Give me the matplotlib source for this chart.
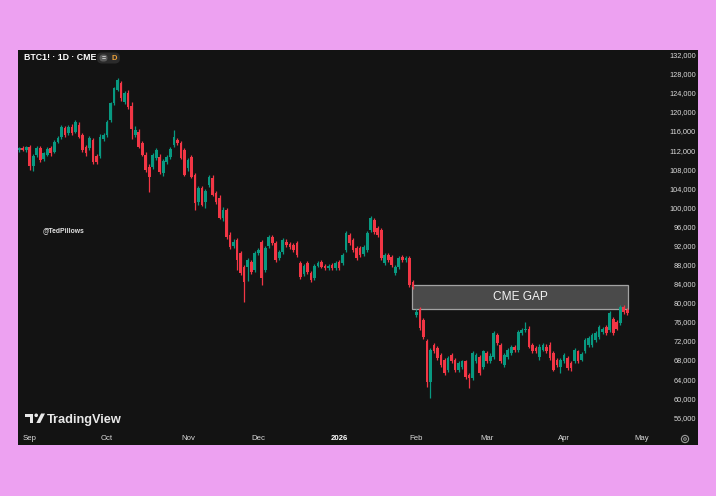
import numpy as np
import pandas as pd
import matplotlib
matplotlib.use('Agg')
import matplotlib.pyplot as plt
import matplotlib.transforms as mtransforms
from matplotlib.patches import Rectangle, FancyBboxPatch, Polygon, Circle

plt.rcParams['font.family'] = ['Liberation Sans', 'DejaVu Sans']

# daily CME sessions shown on the chart
dates = pd.bdate_range('2025-08-27', '2026-04-27')

# OHLC in thousands of USD
opens = [112.2, 112.6, 112.3, 112.8, 108.8, 111.2, 112.6, 110.4, 111.2, 112.6,
         111.9, 114.0, 115.0, 116.8, 115.7, 117.1, 116.1, 117.5, 115.4, 112.9,
         112.6, 114.3, 110.9, 111.0, 114.5, 115.3, 118.5, 122.0, 124.8, 126.3,
         122.3, 124.2, 121.5, 115.4, 116.0, 113.7, 111.2, 108.7, 108.7, 110.6,
         110.8, 107.4, 109.7, 110.8, 113.3, 114.3, 113.7, 112.2, 108.4, 110.8,
         107.0, 101.3, 104.2, 101.3, 104.9, 106.4, 103.2, 102.2, 98.0, 99.6,
         94.4, 92.0, 93.4, 90.6, 87.7, 87.7, 88.7, 87.0, 90.6, 93.0,
         87.0, 92.0, 94.0, 92.7, 89.6, 90.8, 93.0, 92.5, 92.3, 92.7,
         88.5, 86.2, 88.5, 86.4, 85.4, 88.0, 88.8, 88.0, 87.4, 88.1,
         87.4, 88.8, 88.6, 91.3, 94.4, 93.4, 91.7, 91.6, 90.4, 91.3,
         95.4, 97.5, 95.8, 95.5, 88.5, 90.2, 89.9, 86.4, 87.7, 89.9,
         89.2, 89.6, 84.5, 77.6, 79.0, 76.6, 72.2, 63.6, 71.4, 70.7,
         69.3, 68.2, 66.1, 69.3, 68.2, 66.1, 66.8, 67.9, 65.0, 64.4,
         67.9, 68.9, 66.8, 69.6, 68.0, 68.9, 73.4, 71.4, 67.2, 68.9,
         69.6, 71.0, 70.3, 73.8, 74.5, 74.8, 71.4, 70.7, 68.8, 70.3,
         71.0, 71.4, 69.6, 68.2, 66.8, 67.9, 68.6, 67.5, 67.9, 70.0,
         68.2, 70.0, 71.4, 71.4, 72.4, 73.1, 74.1, 75.2, 74.5, 76.9,
         76.2, 75.9, 79.4, 78.7]
highs = [112.9, 113.0, 113.1, 113.2, 111.3, 113.0, 113.0, 111.9, 112.8, 113.0,
         114.4, 115.2, 117.5, 117.2, 117.5, 117.6, 118.5, 118.0, 115.8, 113.3,
         115.1, 114.8, 111.3, 115.5, 115.8, 118.5, 122.3, 125.5, 127.3, 126.7,
         124.6, 124.8, 122.3, 117.3, 116.6, 114.2, 111.8, 109.3, 111.6, 112.6,
         111.3, 110.4, 111.2, 112.8, 116.4, 114.8, 114.2, 112.6, 110.5, 111.2,
         107.4, 104.6, 104.7, 104.0, 107.0, 106.9, 103.6, 102.7, 100.2, 100.1,
         95.0, 93.6, 93.8, 91.0, 88.1, 89.6, 89.1, 91.0, 91.7, 93.4,
         92.1, 94.4, 94.4, 93.1, 91.2, 93.8, 93.6, 92.9, 92.7, 93.1,
         88.9, 88.4, 88.9, 86.8, 88.4, 88.9, 89.2, 88.4, 88.3, 88.5,
         88.9, 89.2, 90.6, 95.2, 94.8, 93.8, 92.1, 92.0, 92.3, 95.2,
         98.3, 97.9, 96.2, 95.9, 90.6, 90.6, 90.3, 88.1, 90.0, 90.3,
         90.0, 90.0, 84.9, 79.0, 79.4, 77.0, 72.6, 70.7, 71.8, 71.1,
         69.7, 68.6, 69.0, 69.7, 68.6, 67.9, 68.3, 68.3, 65.4, 70.0,
         69.7, 69.3, 70.4, 70.0, 69.6, 74.2, 73.8, 71.8, 69.7, 70.7,
         71.4, 71.4, 74.5, 74.9, 76.2, 75.4, 71.8, 71.1, 71.5, 71.8,
         71.5, 71.9, 70.0, 68.6, 68.6, 69.7, 69.0, 67.9, 70.7, 70.4,
         69.8, 72.8, 73.2, 73.8, 74.2, 75.6, 75.2, 75.6, 78.4, 77.3,
         76.6, 79.7, 79.8, 79.1]
lows = [111.8, 112.0, 111.9, 108.0, 107.8, 110.8, 109.8, 110.0, 110.9, 111.0,
        111.5, 113.6, 114.6, 115.0, 115.3, 115.3, 115.8, 114.7, 111.8, 111.0,
        112.2, 109.4, 109.3, 110.6, 114.2, 115.0, 118.2, 121.7, 124.5, 122.6,
        121.9, 120.9, 114.5, 114.9, 112.6, 110.9, 107.7, 103.4, 108.2, 110.2,
        107.2, 106.8, 109.3, 110.4, 112.9, 113.2, 110.3, 106.7, 107.9, 106.3,
        99.6, 100.8, 100.4, 100.0, 104.5, 102.5, 101.0, 97.7, 97.4, 93.6,
        91.5, 91.6, 87.0, 86.0, 80.4, 84.8, 86.2, 86.6, 90.2, 84.0,
        86.6, 91.6, 92.3, 88.8, 89.2, 90.4, 91.9, 91.4, 90.9, 89.8,
        85.2, 85.8, 86.2, 84.6, 85.0, 87.6, 87.4, 87.0, 87.0, 87.0,
        87.0, 87.0, 88.2, 90.9, 92.3, 90.9, 89.2, 89.8, 90.0, 90.9,
        95.0, 94.6, 94.0, 89.2, 88.1, 88.8, 87.7, 86.0, 87.3, 88.8,
        88.8, 83.6, 83.1, 77.2, 74.5, 72.6, 62.5, 60.2, 69.6, 68.2,
        66.8, 65.0, 65.7, 67.5, 65.7, 65.7, 66.4, 64.3, 62.3, 64.0,
        67.5, 65.0, 66.4, 67.5, 67.6, 68.5, 71.3, 67.5, 66.8, 68.5,
        69.2, 69.9, 69.9, 73.4, 74.1, 70.7, 69.7, 69.6, 68.2, 70.0,
        69.7, 68.2, 65.8, 66.8, 65.4, 67.5, 66.1, 65.9, 67.5, 67.5,
        67.9, 69.6, 71.0, 71.0, 72.0, 72.7, 73.7, 73.4, 74.1, 73.4,
        74.4, 75.5, 77.9, 77.6]
closes = [112.6, 112.3, 112.8, 108.8, 110.9, 112.6, 110.1, 111.6, 112.4, 111.5,
          114.0, 114.7, 117.1, 115.4, 117.1, 115.7, 118.0, 115.0, 112.2, 111.5,
          114.7, 109.8, 109.8, 115.0, 115.3, 118.0, 122.0, 125.2, 126.9, 123.1,
          124.2, 121.2, 116.6, 116.4, 112.9, 111.2, 108.0, 106.5, 111.2, 112.2,
          107.6, 110.0, 110.8, 112.4, 115.0, 113.7, 110.6, 107.0, 110.1, 106.6,
          101.1, 104.2, 100.7, 103.6, 106.6, 102.8, 101.3, 98.0, 99.6, 94.0,
          91.9, 93.0, 89.2, 86.4, 84.5, 89.2, 86.6, 90.6, 91.3, 85.4,
          91.7, 94.0, 92.7, 89.2, 90.8, 93.4, 92.3, 91.8, 91.3, 90.2,
          85.6, 88.0, 86.6, 85.0, 88.0, 88.5, 87.8, 87.4, 87.9, 87.4,
          88.5, 87.4, 90.2, 94.8, 92.7, 91.3, 89.6, 90.2, 91.9, 94.8,
          97.9, 95.0, 94.4, 89.6, 90.2, 89.2, 88.1, 87.7, 89.6, 89.2,
          89.6, 84.0, 83.5, 78.3, 74.9, 73.0, 63.6, 70.3, 70.0, 68.6,
          67.2, 65.4, 68.6, 67.9, 66.1, 67.5, 67.9, 64.7, 64.4, 69.6,
          69.3, 65.4, 70.0, 67.9, 69.0, 73.8, 71.7, 67.9, 69.3, 70.3,
          71.0, 70.3, 74.1, 74.5, 74.8, 71.0, 70.0, 70.0, 71.0, 71.4,
          70.0, 68.6, 66.1, 67.2, 68.2, 69.3, 66.5, 66.5, 70.3, 67.9,
          69.5, 72.4, 72.8, 73.4, 73.8, 75.2, 74.8, 73.8, 78.0, 73.8,
          74.8, 79.4, 78.3, 78.0]

price_ticks = [56, 60, 64, 68, 72, 76, 80, 84, 88, 92, 96, 100,
               104, 108, 112, 116, 120, 124, 128, 132]
month_labels = ['Sep', 'Oct', 'Nov', 'Dec', '2026', 'Feb', 'Mar', 'Apr', 'May']
month_starts = pd.date_range('2025-09-01', '2026-05-01', freq='MS')

gap_low = 79.0
gap_high = 84.0
gap_from = pd.Timestamp('2026-01-30')

GREEN = '#089981'
RED = '#F23645'
BG = '#131313'
PINK = '#EDA1F1'
TXT = '#dadada'

W, H = 716, 496
fig = plt.figure(figsize=(W / 100, H / 100), dpi=100, facecolor=PINK)
# pixel coords (y down) -> figure
pix = mtransforms.Affine2D().scale(1 / W, -1 / H).translate(0, 1) + fig.transFigure

ax = fig.add_axes([18 / W, 51 / H, 680 / W, 395 / H])
ax.set_facecolor(BG)
for s in ax.spines.values():
    s.set_visible(False)
ax.set_xticks([])
ax.set_yticks([])
ax.set_xlim(-0.34, 193.12)
ax.set_ylim(50.385, 133.195)

o = np.array(opens)
h = np.array(highs)
l = np.array(lows)
c = np.array(closes)
x = np.arange(len(dates))
col = np.where(c >= o, GREEN, RED)

ax.vlines(x, l, h, colors=col, linewidth=0.9, zorder=3)
ax.bar(x, np.maximum(np.abs(c - o), 0.15), bottom=np.minimum(o, c), width=0.76,
       color=col, linewidth=0, zorder=3)

# CME gap box
gi = dates.searchsorted(gap_from)
x0 = gi - 0.3
x1 = len(dates) - 1 + 0.3
ax.add_patch(Rectangle((x0, gap_low), x1 - x0, gap_high - gap_low, facecolor='#4a4a4a',
                       edgecolor='#a3a3a3', linewidth=0.9, zorder=2))
ax.text((x0 + x1) / 2, (gap_low + gap_high) / 2, 'CME GAP', color='#f2f2f2', fontsize=8.6,
        ha='center', va='center', zorder=4)

# price scale
ytr = mtransforms.blended_transform_factory(ax.transAxes, ax.transData)
for t in price_ticks:
    ax.text(0.997, t, f'{t * 1000:,}', transform=ytr, ha='right', va='center',
            fontsize=5.3, color=TXT)

# time scale
all_days = pd.bdate_range(dates[0], '2026-05-29')
xtr = mtransforms.blended_transform_factory(ax.transData, ax.transAxes)
for m, lab in zip(month_starts, month_labels):
    pos = all_days.searchsorted(m)
    bold = lab == '2026'
    ax.text(pos, 0.0152, lab, transform=xtr, ha='center', va='center', fontsize=5.6,
            color='white' if bold else TXT, fontweight='bold' if bold else 'normal')

# header
fig.text(24 / W, 1 - 58 / H, 'BTC1! · 1D · CME', color='white', fontsize=6.3,
         fontweight='bold', va='center', ha='left')
fig.add_artist(FancyBboxPatch((97, 52.5), 23, 11, boxstyle='round,pad=0,rounding_size=5',
                              facecolor='#2b2b2b', edgecolor='none', transform=pix))
fig.add_artist(FancyBboxPatch((99.5, 54.5), 8, 7, boxstyle='round,pad=0,rounding_size=3.5',
                              facecolor='#5a5a5a', edgecolor='none', transform=pix))
fig.text(103.5 / W, 1 - 58 / H, '=', color='#e0e0e0', fontsize=5, fontweight='bold',
         ha='center', va='center')
fig.text(114.5 / W, 1 - 58 / H, 'D', color='#f0a33a', fontsize=5.5, fontweight='bold',
         ha='center', va='center')

fig.text(43 / W, 1 - 231 / H, '@TedPillows', color='#e2e2e2', fontsize=4.9,
         fontweight='bold', ha='left', va='center')

# TradingView watermark
logo_col = '#e8e8e8'
fig.add_artist(Polygon([(25, 413.5), (33, 413.5), (33, 423), (29.5, 423), (29.5, 416.8), (25, 416.8)],
                       closed=True, facecolor=logo_col, edgecolor='none', transform=pix))
fig.add_artist(Circle((36.2, 415.3), 1.8, facecolor=logo_col, edgecolor='none', transform=pix))
fig.add_artist(Polygon([(36.3, 423), (40.2, 423), (45, 413.5), (41.1, 413.5)],
                       closed=True, facecolor=logo_col, edgecolor='none', transform=pix))
fig.text(47 / W, 1 - 423.5 / H, 'TradingView', color=logo_col, fontsize=9.2,
         fontweight='bold', ha='left', va='baseline')

# settings gear
fig.add_artist(Circle((685, 439), 3.6, facecolor='none', edgecolor='#9a9a9a', linewidth=0.8,
                      transform=pix))
fig.add_artist(Circle((685, 439), 1.3, facecolor='none', edgecolor='#9a9a9a', linewidth=0.7,
                      transform=pix))

fig.savefig('out.png', dpi=100, facecolor=PINK)
